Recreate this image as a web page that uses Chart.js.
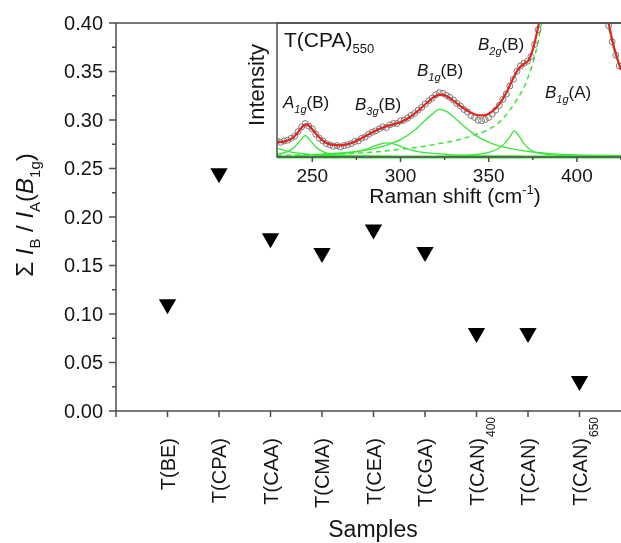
<!DOCTYPE html>
<html><head><meta charset="utf-8">
<script src="https://cdn.jsdelivr.net/npm/chart.js@4/dist/chart.umd.min.js"></script>
<style>
html,body{margin:0;padding:0;background:#fff;overflow:hidden}
#wrap{position:relative;width:621px;height:543px;background:#fff}
#main{position:absolute;left:0;top:0}
#inset{position:absolute;left:230px;top:0}
</style></head><body>
<div id="wrap"><canvas id="main" width="621" height="543"></canvas><canvas id="inset" width="391" height="215"></canvas></div>
<script>
// ---------- main chart data ----------
const categories = ['T(BE)','T(CPA)','T(CAA)','T(CMA)','T(CEA)','T(CGA)','T(CAN)','T(CAN)','T(CAN)'];
const categorySubs = ['','','','','','','400','','650'];
const ratioValues = [0.110, 0.245, 0.178, 0.163, 0.187, 0.164, 0.0805, 0.0805, 0.031];
const yTickLabels = ['0.00','0.05','0.10','0.15','0.20','0.25','0.30','0.35','0.40'];

// ---------- inset data (Raman spectrum of T(CPA)550) ----------
const insetTicks = [250, 300, 350, 400];
const obsShift = [230,232,234,236,238,240,242,244,246,248,250,252,254,256,258,260,262,264,266,268,270,272,274,276,278,280,282,284,286,288,290,292,294,296,298,300,302,304,306,308,310,312,314,316,318,320,322,324,326,328,330,332,334,336,338,340,342,344,346,348,350,352,354,356,358,360,362,364,366,368,370,372,374,376,378,418,420,422,424];
const obsIntensity = [12,11,12,12.5,14,15.5,19,22.5,25,23,21,17,14,12,10,9,8,8.5,7.5,8.5,9,10,11.5,12,14,15,17,18.5,19.5,21,22.5,22,24,25,25,27,27.5,29,31,32.5,35,37,39.5,42,44,46.5,48,47.5,46,44.5,42.5,40,38,35.5,33.5,31,29.5,27.5,27,28,29.5,32,35,38.5,43,47,53,58,64,68,70,71.5,75,84,95,98,86,76,68];
const fitShift = [230,234,238,241,244,246,248,251,254,258,262,266,270,275,280,285,290,295,300,305,310,315,320,323,326,330,335,340,345,348,352,356,360,364,367,370,373,376,379,382,400,414,418,421,425];
const fitIntensity = [11,11.5,13.5,17,22,24.3,23.5,19,14.5,10.5,9,8.7,9.5,12,15.5,19,22,24,26,29.5,34.5,40.5,45.5,46.5,45.5,42,37,33,31,31.2,34,39.5,48,59,66,69.5,73,85,104,130,null,130,100,82,65];
const leftTailShift = [230,235,240,250,270,300,340];
const leftTailIntensity = [6.5,4.5,3.2,1.8,0.8,0.3,0.1];
const a1gShift = [230,236,240,243,246,249,252,256,262,275,300];
const a1gIntensity = [2,4,7.5,12,16,12,7.5,4,2,1,0.3];
const b3gShift = [250,265,275,282,287,292,297,302,310,320,340,370];
const b3gIntensity = [1,2.5,4,6.5,9,10.5,9.5,7,4,2.5,1,0.5];
const b1gBShift = [240,260,280,290,300,308,314,318,322,326,330,336,344,352,360,370,385,400,425];
const b1gBIntensity = [1,2.5,5,8,13,20,27.5,32,35.5,34,30,23,15,10,7,4.5,2.5,1.5,1];
const b2gShift = [320,340,350,355,359,362,364.5,367,370,374,380,390,410];
const b2gIntensity = [0.5,1.5,3.5,6,10,15,19.5,16,10,5,2.5,1.2,0.5];
const b1gAShift = [230,250,270,283,295,311,322,332,342,349,356,362,366,370,373,375,377,379,381,400,418,421,425];
const b1gAIntensity = [1.2,1.8,2.5,3.5,5,7.5,10,12.5,16.5,20,26,35,43,52,62,70,80,93,110,null,96,80,64];
const baseShift = [230, 425];
const baseIntensity = [0, 0];

const FONT = '"Liberation Sans", Arial, Helvetica, sans-serif';
const TXT = '#151515';
const AX = '#4d4d4d';

function fontOf(p, size){
  const s = p.sub || p.sup ? Math.round(size*0.62) : size;
  return (p.it ? 'italic ' : '') + s + 'px ' + FONT;
}
function richWidth(ctx, parts, size){
  let w = 0;
  for (const p of parts){ ctx.font = fontOf(p,size); w += ctx.measureText(p.t).width; }
  return w;
}
function drawRich(ctx, x, y, parts, size, align){
  const w = richWidth(ctx, parts, size);
  let cx = align==='right' ? x-w : align==='center' ? x-w/2 : x;
  ctx.textAlign = 'left'; ctx.textBaseline = 'alphabetic';
  for (const p of parts){
    ctx.font = fontOf(p,size);
    const off = p.sub ? (p.subOff!==undefined ? p.subOff : size*0.3) : p.sup ? -size*0.42 : 0;
    ctx.fillText(p.t, cx, y+off);
    cx += ctx.measureText(p.t).width;
  }
}
function line(ctx,x1,y1,x2,y2){ctx.beginPath();ctx.moveTo(x1,y1);ctx.lineTo(x2,y2);ctx.stroke();}

const mainDecor = {
  id:'mainDecor',
  afterDraw(chart){
    const {ctx, chartArea:a, scales:{x,y}} = chart;
    ctx.save();
    ctx.strokeStyle = AX; ctx.lineWidth = 1.5; ctx.fillStyle = TXT;
    ctx.beginPath();
    ctx.moveTo(a.left, a.top); ctx.lineTo(a.left, a.bottom); ctx.lineTo(a.right, a.bottom);
    ctx.moveTo(a.left, a.top); ctx.lineTo(a.right, a.top);
    ctx.stroke();
    for (let k=0;k<=16;k++){
      const py = y.getPixelForValue(k*0.025);
      line(ctx, a.left-(k%2===0?7:4), py, a.left, py);
    }
    ctx.font = '20px '+FONT; ctx.textAlign='right'; ctx.textBaseline='middle';
    yTickLabels.forEach(l=>{ ctx.fillText(l, 103, y.getPixelForValue(parseFloat(l))+1); });
    for (let i=0;i<=categories.length;i++){
      const px = x.getPixelForValue(i);
      line(ctx, px, a.bottom, px, a.bottom+6);
    }
    categories.forEach((c,i)=>{
      const px = x.getPixelForValue(i+1);
      ctx.save(); ctx.translate(px+7, 438); ctx.rotate(-Math.PI/2);
      drawRich(ctx, 0, 0, [{t:c}], 20, 'right');
      if (categorySubs[i]) drawRich(ctx, 1, 0, [{t:categorySubs[i], sub:true, subOff:11}], 20, 'left');
      ctx.restore();
    });
    drawRich(ctx, 373, 537, [{t:'Samples'}], 23, 'center');
    ctx.save(); ctx.translate(33, 215); ctx.rotate(-Math.PI/2);
    drawRich(ctx, 0, 0, [{t:'\u03A3 '},{t:'I',it:true},{t:'B',sub:true},{t:' / '},{t:'I',it:true},{t:'A',sub:true},{t:'('},{t:'B',it:true},{t:'1g',sub:true},{t:')'}], 24, 'center');
    ctx.restore();
    ctx.restore();
  }
};

new Chart(document.getElementById('main'), {
  type:'scatter',
  data:{ datasets:[{
    data: ratioValues.map((v,i)=>({x:i+1, y:v})),
    pointStyle:'triangle', rotation:180, pointRadius:10,
    backgroundColor:'#000', borderColor:'#000', borderWidth:0
  }]},
  options:{
    responsive:false, animation:false, devicePixelRatio:1,
    layout:{autoPadding:false, padding:{left:116, top:23, right:0, bottom:132}},
    plugins:{legend:{display:false}, tooltip:{enabled:false}},
    scales:{ x:{type:'linear', min:0, max:(621-116)/51.5, display:false}, y:{min:0, max:0.4, display:false} }
  },
  plugins:[mainDecor]
});

// ---------- inset ----------
const GREEN = '#38e636';
const RED = '#e3231c';
const pts = (xs, ys) => xs.map((v,i)=>({x:v, y:ys[i]}));
const greenDs = (xs, ys, extra) => Object.assign({data:pts(xs,ys), borderColor:GREEN, borderWidth:1.3, pointRadius:0, fill:false, cubicInterpolationMode:'monotone', clip:{left:0,right:0,top:0,bottom:4}}, extra||{});

const insetDecor = {
  id:'insetDecor',
  afterDraw(chart){
    const {ctx, chartArea:a, scales:{x}} = chart;
    ctx.save();
    ctx.strokeStyle = AX; ctx.lineWidth = 1.5; ctx.fillStyle = TXT;
    ctx.beginPath();
    ctx.moveTo(a.left, a.top); ctx.lineTo(a.left, a.bottom); ctx.lineTo(a.right, a.bottom);
    ctx.moveTo(a.left, a.top); ctx.lineTo(a.right, a.top);
    ctx.stroke();
    for (let v=250; v<=425; v+=25){
      const px = x.getPixelForValue(v);
      line(ctx, px, a.bottom, px, a.bottom+(v%50===0?5:3));
    }
    ctx.font = '19px '+FONT; ctx.textAlign='center'; ctx.textBaseline='alphabetic';
    insetTicks.forEach(v=>ctx.fillText(String(v), x.getPixelForValue(v), 182));
    drawRich(ctx, 455-230, 203, [{t:'Raman shift (cm'},{t:'-1',sup:true},{t:')'}], 21, 'center');
    ctx.save(); ctx.translate(264-230, 85); ctx.rotate(-Math.PI/2);
    drawRich(ctx, 0, 0, [{t:'Intensity'}], 22, 'center');
    ctx.restore();
    drawRich(ctx, 284-230, 47, [{t:'T(CPA)'},{t:'550',sub:true,subOff:6}], 21, 'left');
    const lab = (xx, yy, L, sub, tail) => drawRich(ctx, xx-230, yy, [{t:L,it:true},{t:sub,sub:true,it:true,subOff:5},{t:tail}], 17, 'left');
    lab(283, 108, 'A', '1g', '(B)');
    lab(355, 110, 'B', '3g', '(B)');
    lab(417, 76, 'B', '1g', '(B)');
    lab(478, 50, 'B', '2g', '(B)');
    lab(545, 98, 'B', '1g', '(A)');
    ctx.restore();
  }
};

new Chart(document.getElementById('inset'), {
  type:'line',
  data:{ datasets:[
    {data:pts(fitShift, fitIntensity), borderColor:RED, borderWidth:2.2, pointRadius:0, fill:false, cubicInterpolationMode:'monotone', spanGaps:false, clip:0},
    {data:pts(obsShift, obsIntensity), showLine:false, pointStyle:'circle', pointRadius:3, pointBorderWidth:1, pointBorderColor:'#7a7a7a', pointBackgroundColor:'rgba(255,255,255,0)', clip:0},
    greenDs(b2gShift, b2gIntensity),
    greenDs(b1gBShift, b1gBIntensity),
    greenDs(b3gShift, b3gIntensity),
    greenDs(a1gShift, a1gIntensity),
    greenDs(leftTailShift, leftTailIntensity),
    greenDs(b1gAShift, b1gAIntensity, {borderDash:[5,4], borderWidth:1.5, spanGaps:false}),
    greenDs(baseShift, baseIntensity, {borderWidth:3, tension:0})
  ]},
  options:{
    responsive:false, animation:false, devicePixelRatio:1,
    layout:{autoPadding:false, padding:{left:47, top:23, right:0, bottom:58}},
    plugins:{legend:{display:false}, tooltip:{enabled:false}},
    scales:{ x:{type:'linear', min:230, max:425, display:false}, y:{min:0, max:100, display:false} }
  },
  plugins:[insetDecor]
});
</script>
</body></html>
